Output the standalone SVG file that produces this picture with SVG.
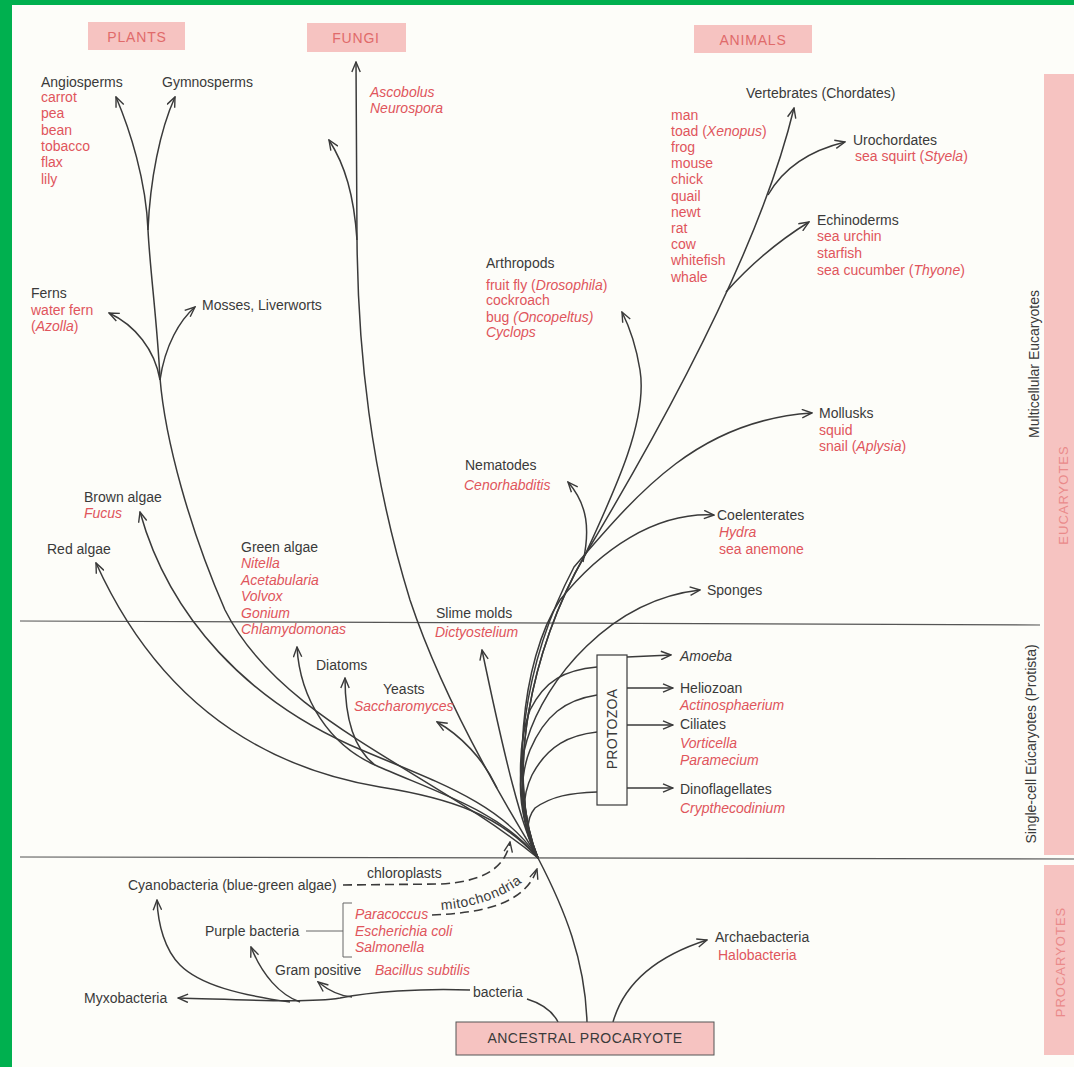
<svg xmlns="http://www.w3.org/2000/svg" width="1074" height="1067" viewBox="0 0 1074 1067">
<style>
text{font-family:"Liberation Sans",Arial,Helvetica,sans-serif;font-size:14px}
.k{fill:#3a3a3a}
.r{fill:#e0555c}
.i{font-style:italic}
.hd{fill:#e06a6a;letter-spacing:0.8px}
.bd{fill:#ea8a8a;letter-spacing:1px;font-size:13px}
.ln{fill:none;stroke:#3a3a3a;stroke-width:1.5}
.ar{marker-end:url(#a)}
.ds{fill:none;stroke:#3a3a3a;stroke-width:1.6;stroke-dasharray:9 5}
.pk{fill:#f6c3c1}
.sep{stroke:#555;stroke-width:1.2}
</style>
<defs>
<marker id="a" viewBox="0 0 12 10" refX="11" refY="5" markerWidth="12" markerHeight="10" markerUnits="userSpaceOnUse" orient="auto">
<path d="M1 0.8 L11 5 L1 9.2" fill="none" stroke="#3a3a3a" stroke-width="1.4"/>
</marker>
<path id="mp" d="M441 910 C476 907 506 898 531 875"/>
</defs>
<rect width="1074" height="1067" fill="#00b04f"/>
<rect x="12" y="5" width="1062" height="1062" fill="#fdfdf9"/>

<g id="bands">
<rect class="pk" x="1044" y="74" width="30" height="781"/>
<rect class="pk" x="1044" y="865" width="30" height="190"/>
<text class="bd" transform="translate(1068,495) rotate(-90)" text-anchor="middle">EUCARYOTES</text>
<text class="bd" transform="translate(1065,962) rotate(-90)" text-anchor="middle">PROCARYOTES</text>
<text class="k" transform="translate(1039,364) rotate(-90)" text-anchor="middle">Multicellular Eucaryotes</text>
<text class="k" transform="translate(1036,744) rotate(-90)" text-anchor="middle">Single-cell Eúcaryotes (Protista)</text>
<line class="sep" x1="20" y1="621" x2="1040" y2="625"/>
<line class="sep" x1="20" y1="857" x2="1074" y2="859"/>
</g>

<g id="headers">
<rect class="pk" x="88" y="22" width="97" height="28"/>
<text class="hd" x="137" y="42" text-anchor="middle">PLANTS</text>
<rect class="pk" x="307" y="23" width="99" height="29"/>
<text class="hd" x="356" y="43" text-anchor="middle">FUNGI</text>
<rect class="pk" x="694" y="25" width="118" height="28"/>
<text class="hd" x="753" y="45" text-anchor="middle">ANIMALS</text>
</g>

<g id="connectors">
<!-- plants -->
<path class="ln ar" d="M538 858 C500 815 450 798 380 787 C220 760 140 660 96 563"/>
<path class="ln ar" d="M538 858 C500 800 430 780 350 745 C250 700 170 620 140 512"/>
<path class="ln" d="M538 858 C430 770 280 720 225 610 C190 530 165 440 160 378 C157 320 150 270 148 230"/>
<path class="ln ar" d="M148 230 C146 180 130 130 116 97"/>
<path class="ln ar" d="M148 230 C150 180 160 130 175 97"/>
<path class="ln ar" d="M160 380 C155 350 135 325 109 313"/>
<path class="ln ar" d="M160 380 C165 345 180 320 195 307"/>
<path class="ln ar" d="M538 858 C500 810 430 790 375 765 C330 745 300 700 297 647"/>
<path class="ln ar" d="M375 765 C355 750 345 720 345 678"/>
<!-- fungi -->
<path class="ln ar" d="M538 858 C490 780 440 690 410 600 C370 470 358 350 357 240 L356 62"/>
<path class="ln ar" d="M357 240 C354 195 345 165 329 140"/>
<path class="ln ar" d="M497 788 C483 758 460 735 437 722"/>
<path class="ln ar" d="M538 858 C522 830 505 760 482 650"/>
<!-- animals -->
<path class="ln ar" d="M538 858 C505 780 530 650 585 555 C657 435 760 250 794 108"/>
<path class="ln ar" d="M768 195 C785 165 812 150 845 142"/>
<path class="ln ar" d="M726 292 C750 265 780 240 809 222"/>
<path class="ln ar" d="M538 858 C505 780 530 650 585 555 C615 490 648 420 640 370 C636 345 630 328 622 312"/>
<path class="ln ar" d="M583 562 C590 530 588 505 568 482"/>
<path class="ln ar" d="M538 858 C505 780 525 660 574 567 C640 490 700 420 812 413"/>
<path class="ln ar" d="M538 858 C510 790 520 660 560 600 C600 550 655 512 714 515"/>
<path class="ln ar" d="M538 858 C520 820 515 780 527 740 C545 680 610 600 700 590"/>
<!-- protozoa -->
<path class="ln" d="M538 858 C518 820 515 750 530 710 C545 680 565 670 597 667"/>
<path class="ln" d="M538 858 C520 825 518 780 530 750 C545 715 565 700 597 695"/>
<path class="ln" d="M538 858 C522 830 520 800 532 775 C548 745 570 735 597 732"/>
<path class="ln" d="M538 858 C526 838 525 820 535 808 C552 796 570 793 597 792"/>
<path class="ln ar" d="M627 657 L671 655"/>
<path class="ln ar" d="M627 688 L673 688"/>
<path class="ln ar" d="M627 725 L673 725"/>
<path class="ln ar" d="M627 788 L673 788"/>
<!-- procaryotes -->
<path class="ln" d="M538 858 C565 910 585 960 587 1022"/>
<path class="ln" d="M558 1022 C552 1010 540 1003 527 999"/>
<path class="ln ar" d="M470 990 C420 988 370 992 340 998 C310 1003 250 1000 178 998"/>
<path class="ln ar" d="M352 997 C338 996 328 990 318 982"/>
<path class="ln ar" d="M300 1002 C280 995 262 975 251 947"/>
<path class="ln ar" d="M290 1002 C240 995 200 985 180 965 C165 950 158 925 157 900"/>
<path class="ln ar" d="M613 1022 C625 980 660 955 707 940"/>
<path class="ds ar" d="M343 885 L440 884 C480 882 505 870 510 842"/>
<path class="ds ar" d="M432 915 C480 913 525 905 537 869"/>
<path d="M306 931 L343 931 M352 903 L343 903 L343 957 L352 957" fill="none" stroke="#666" stroke-width="1"/>
</g>

<g id="plants">
<text class="k" x="41" y="87">Angiosperms</text>
<text class="r" x="41" y="102">carrot<tspan x="41" dy="16.3">pea</tspan><tspan x="41" dy="16.3">bean</tspan><tspan x="41" dy="16.3">tobacco</tspan><tspan x="41" dy="16.3">flax</tspan><tspan x="41" dy="16.3">lily</tspan></text>
<text class="k" x="162" y="87">Gymnosperms</text>
<text class="k" x="31" y="298">Ferns</text>
<text class="r" x="31" y="315">water fern<tspan x="31" dy="16">(<tspan class="i">Azolla</tspan>)</tspan></text>
<text class="k" x="202" y="310">Mosses, Liverworts</text>
</g>

<g id="fungi">
<text class="r i" x="370" y="97">Ascobolus<tspan x="370" dy="16">Neurospora</tspan></text>
</g>

<g id="algae">
<text class="k" x="84" y="502">Brown algae</text>
<text class="r i" x="84" y="518">Fucus</text>
<text class="k" x="47" y="554">Red algae</text>
<text class="k" x="241" y="552">Green algae</text>
<text class="r i" x="241" y="568">Nitella<tspan x="241" dy="16.5">Acetabularia</tspan><tspan x="241" dy="16.5">Volvox</tspan><tspan x="241" dy="16.5">Gonium</tspan><tspan x="241" dy="16.5">Chlamydomonas</tspan></text>
<text class="k" x="316" y="670">Diatoms</text>
</g>

<g id="yeasts">
<text class="k" x="383" y="694">Yeasts</text>
<text class="r i" x="354" y="711">Saccharomyces</text>
</g>

<g id="slime">
<text class="k" x="436" y="618">Slime molds</text>
<text class="r i" x="435" y="637">Dictyostelium</text>
</g>

<g id="arthropods">
<text class="k" x="486" y="268">Arthropods</text>
<text class="r" x="486" y="290">fruit fly (<tspan class="i">Drosophila</tspan>)<tspan x="486" y="305">cockroach</tspan><tspan x="486" y="322">bug <tspan class="i">(Oncopeltus)</tspan></tspan><tspan x="486" y="337" class="i">Cyclops</tspan></text>
</g>

<g id="vertebrates">
<text class="k" x="746" y="98">Vertebrates (Chordates)</text>
<text class="r" x="671" y="119.5">man<tspan x="671" dy="16.2">toad (<tspan class="i">Xenopus</tspan>)</tspan><tspan x="671" dy="16.2">frog</tspan><tspan x="671" dy="16.2">mouse</tspan><tspan x="671" dy="16.2">chick</tspan><tspan x="671" dy="16.2">quail</tspan><tspan x="671" dy="16.2">newt</tspan><tspan x="671" dy="16.2">rat</tspan><tspan x="671" dy="16.2">cow</tspan><tspan x="671" dy="16.2">whitefish</tspan><tspan x="671" dy="16.2">whale</tspan></text>
</g>

<g id="urochordates">
<text class="k" x="853" y="145">Urochordates</text>
<text class="r" x="855" y="161">sea squirt (<tspan class="i">Styela</tspan>)</text>
</g>

<g id="echinoderms">
<text class="k" x="817" y="225">Echinoderms</text>
<text class="r" x="817" y="241">sea urchin<tspan x="817" y="258">starfish</tspan><tspan x="817" y="275">sea cucumber (<tspan class="i">Thyone</tspan>)</tspan></text>
</g>

<g id="mollusks">
<text class="k" x="819" y="418">Mollusks</text>
<text class="r" x="819" y="435">squid<tspan x="819" y="451">snail (<tspan class="i">Aplysia</tspan>)</tspan></text>
</g>

<g id="nematodes">
<text class="k" x="465" y="470">Nematodes</text>
<text class="r i" x="464" y="490">Cenorhabditis</text>
</g>

<g id="coelenterates">
<text class="k" x="717" y="520">Coelenterates</text>
<text class="r" x="719" y="537"><tspan class="i">Hydra</tspan><tspan x="719" y="554">sea anemone</tspan></text>
</g>

<g id="sponges">
<text class="k" x="707" y="595">Sponges</text>
</g>

<g id="protozoa">
<rect x="597" y="655" width="30" height="150" fill="#fdfdf9" stroke="#3a3a3a" stroke-width="1.2"/>
<text class="k" transform="translate(617,729) rotate(-90)" text-anchor="middle" style="letter-spacing:0.3px">PROTOZOA</text>
<text class="k i" x="680" y="661">Amoeba</text>
<text class="k" x="680" y="693">Heliozoan</text>
<text class="r i" x="680" y="710">Actinosphaerium</text>
<text class="k" x="680" y="729">Ciliates</text>
<text class="r i" x="680" y="748">Vorticella<tspan x="680" y="765">Paramecium</tspan></text>
<text class="k" x="680" y="794">Dinoflagellates</text>
<text class="r i" x="680" y="813">Crypthecodinium</text>
</g>

<g id="bacteria">
<text class="k" x="367" y="878">chloroplasts</text>
<text class="k" style="letter-spacing:0.6px"><textPath href="#mp">mitochondria</textPath></text>
<text class="k" x="128" y="890">Cyanobacteria (blue-green algae)</text>
<text class="k" x="205" y="936">Purple bacteria</text>
<text class="r i" x="355" y="919">Paracoccus<tspan x="355" y="936">Escherichia coli</tspan><tspan x="355" y="952">Salmonella</tspan></text>
<text class="k" x="275" y="975">Gram positive</text>
<text class="r i" x="375" y="975">Bacillus subtilis</text>
<text class="k" x="84" y="1003">Myxobacteria</text>
<text class="k" x="473" y="997">bacteria</text>
</g>

<g id="archaebacteria">
<text class="k" x="715" y="942">Archaebacteria</text>
<text class="r" x="718" y="960">Halobacteria</text>
</g>

<g id="ancestor">
<rect x="456" y="1022" width="258" height="33" fill="#f6c3c1" stroke="#555" stroke-width="1"/>
<text class="k" x="585" y="1043" text-anchor="middle" style="letter-spacing:0.5px">ANCESTRAL PROCARYOTE</text>
</g>
</svg>
